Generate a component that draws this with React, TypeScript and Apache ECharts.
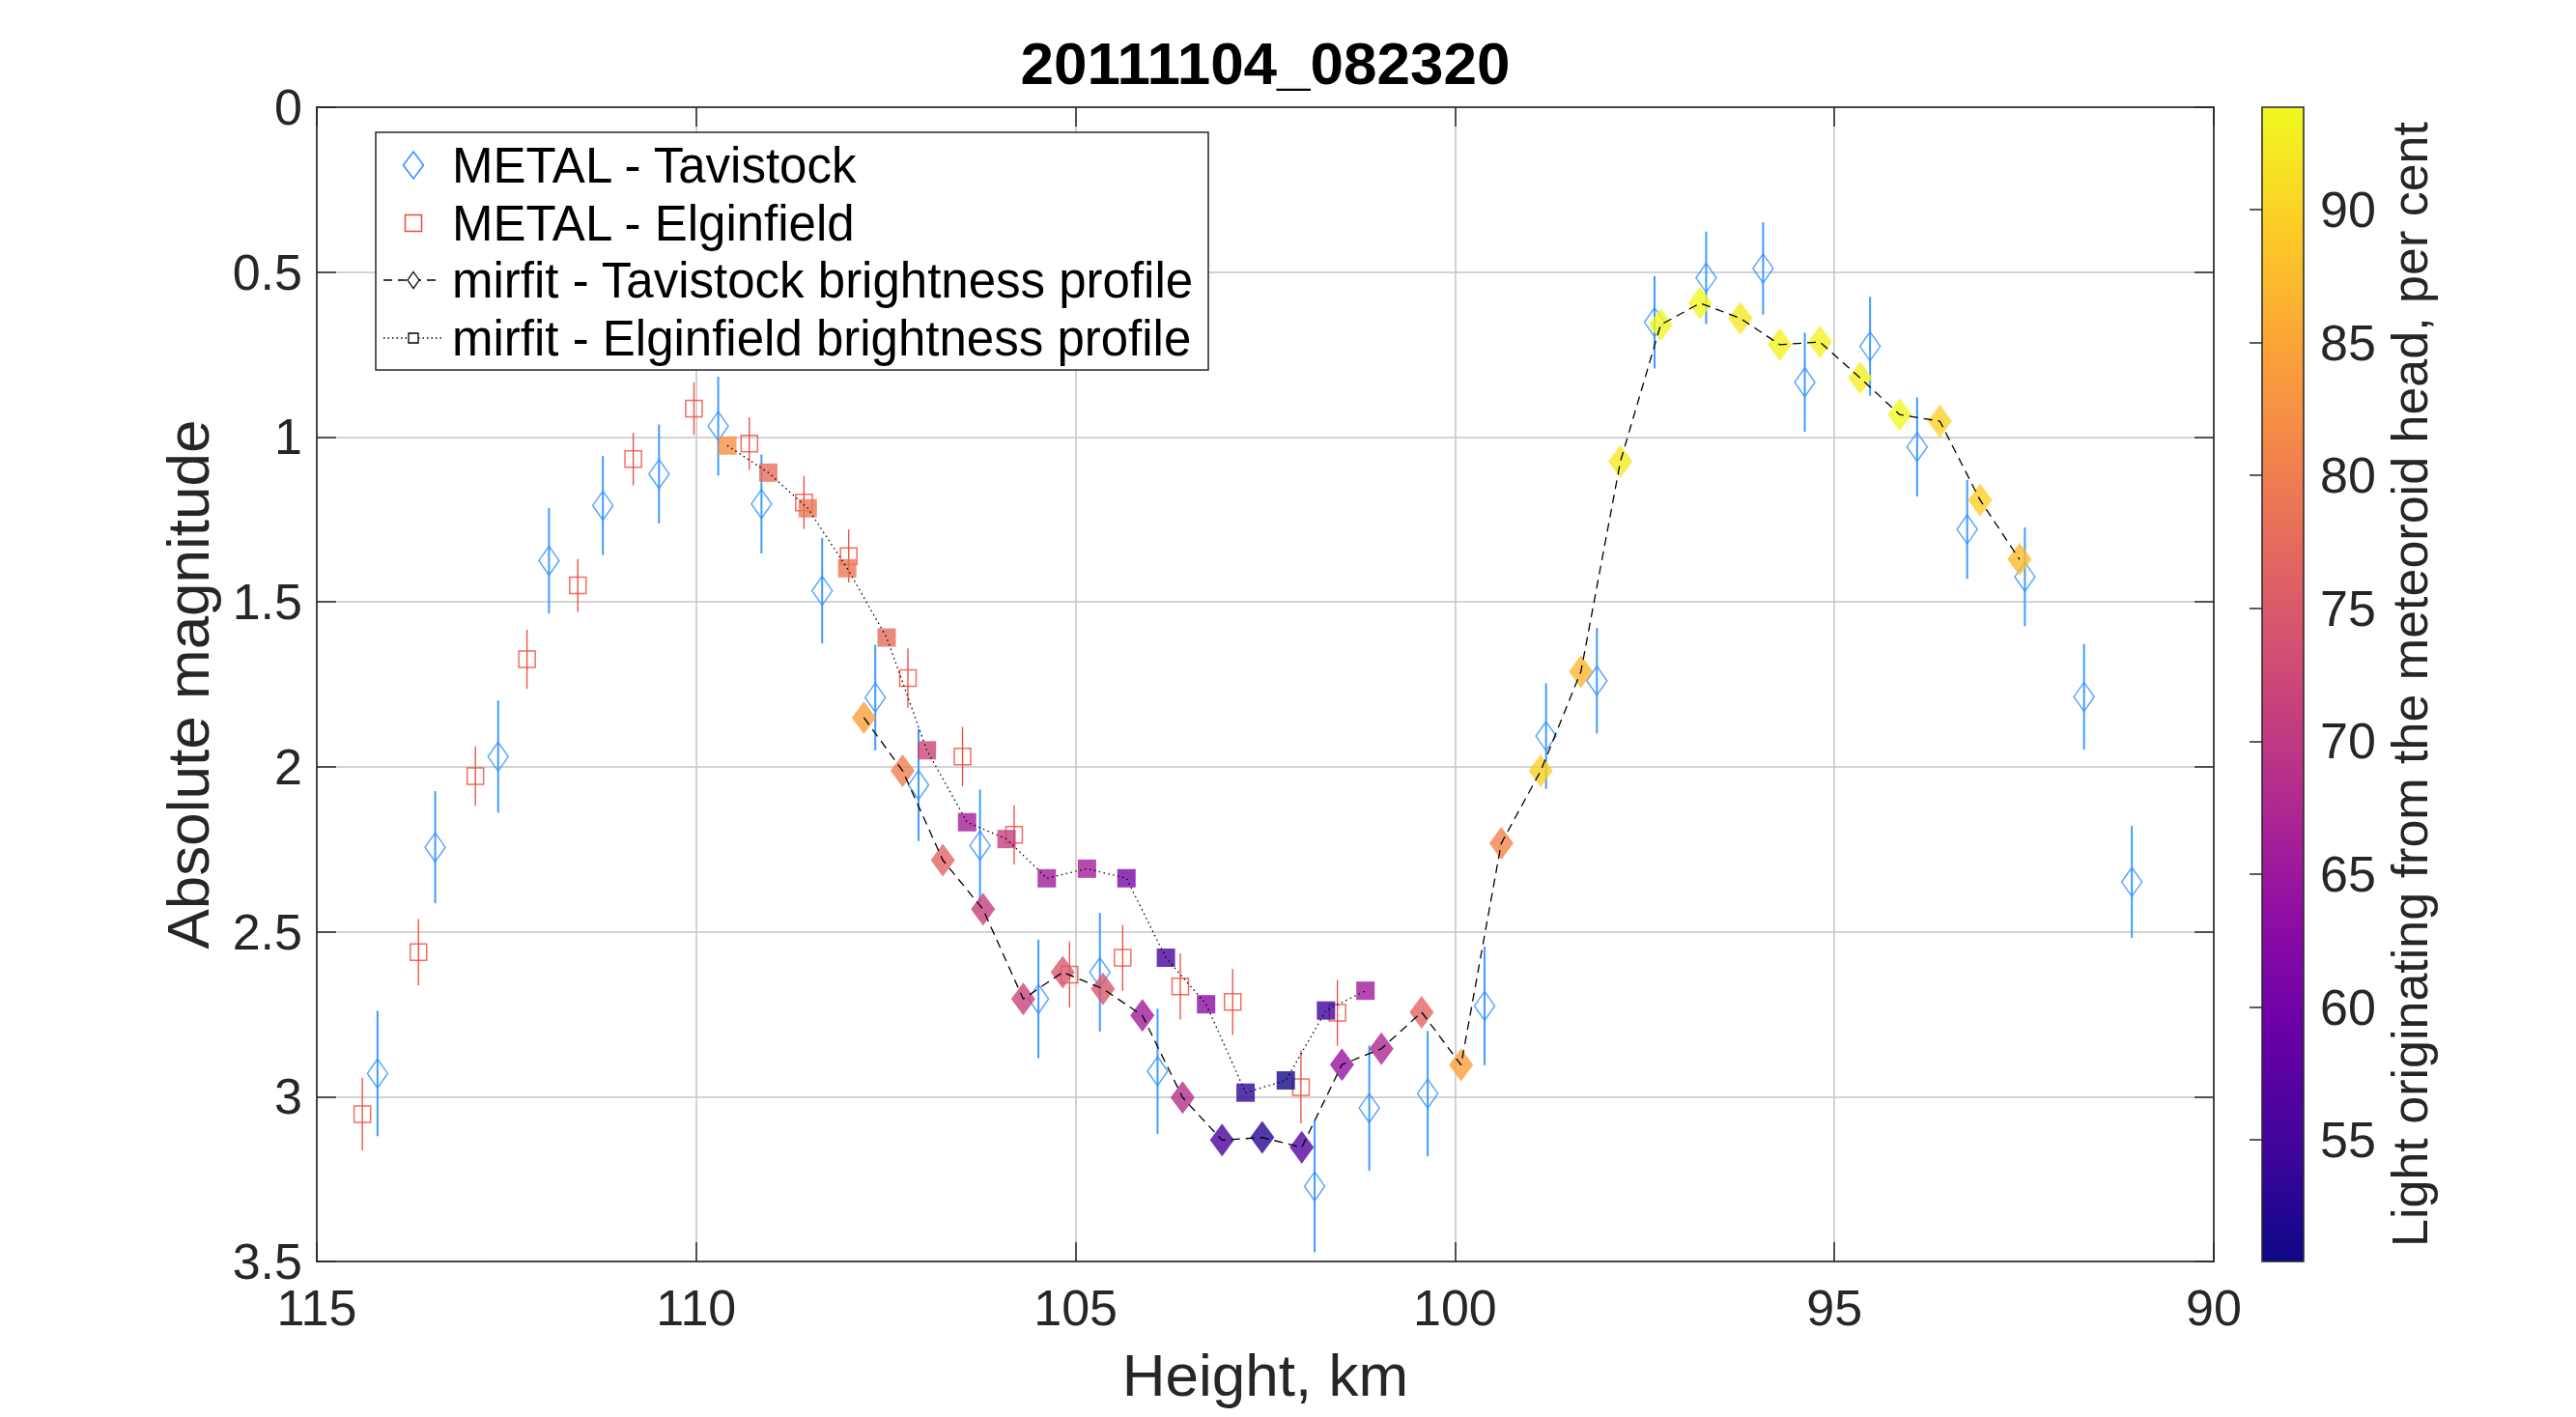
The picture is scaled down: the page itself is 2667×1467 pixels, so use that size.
import React, { useEffect, useRef } from "react";
import * as echarts from "echarts";

// ---------- data ----------
// METAL - Tavistock (height km, absolute magnitude, error)
const tavHeight = [114.2, 113.44, 112.61, 111.94, 111.23, 110.49, 109.71, 109.14, 108.34, 107.64, 107.07, 106.26, 105.49, 104.68, 103.92, 101.85, 101.13, 100.36, 99.61, 98.8, 98.13, 97.37, 96.69, 95.94, 95.39, 94.53, 93.91, 93.25, 92.49, 91.71, 91.08];
const tavMag = [2.93, 2.244, 1.969, 1.375, 1.208, 1.112, 0.967, 1.203, 1.466, 1.79, 2.055, 2.239, 2.704, 2.623, 2.923, 3.272, 3.035, 2.991, 2.725, 1.907, 1.739, 0.652, 0.517, 0.489, 0.834, 0.725, 1.03, 1.28, 1.424, 1.788, 2.349];
const tavErr = [0.19, 0.17, 0.17, 0.16, 0.15, 0.15, 0.15, 0.15, 0.16, 0.16, 0.17, 0.17, 0.18, 0.18, 0.19, 0.2, 0.19, 0.19, 0.18, 0.16, 0.16, 0.14, 0.14, 0.14, 0.15, 0.15, 0.15, 0.15, 0.15, 0.16, 0.17];

// METAL - Elginfield
const elgHeight = [114.4, 113.66, 112.91, 112.23, 111.56, 110.83, 110.03, 109.3, 108.58, 107.99, 107.21, 106.49, 105.81, 105.08, 104.38, 103.62, 102.93, 102.03, 101.55];
const elgMag = [3.053, 2.562, 2.028, 1.674, 1.45, 1.067, 0.914, 1.02, 1.199, 1.361, 1.731, 1.969, 2.206, 2.63, 2.579, 2.666, 2.713, 2.971, 2.746];
const elgErr = [0.11, 0.1, 0.09, 0.09, 0.08, 0.08, 0.08, 0.08, 0.08, 0.08, 0.09, 0.09, 0.09, 0.1, 0.1, 0.1, 0.1, 0.11, 0.1];

// mirfit - Tavistock brightness profile (height, magnitude, % light from head)
const mirTavHeight = [107.79, 107.28, 106.75, 106.22, 105.69, 105.17, 104.64, 104.12, 103.59, 103.07, 102.54, 102.02, 101.49, 100.97, 100.44, 99.92, 99.39, 98.87, 98.34, 97.82, 97.29, 96.77, 96.24, 95.72, 95.19, 94.66, 94.14, 93.61, 93.08, 92.56];
const mirTavMag = [1.851, 2.012, 2.283, 2.432, 2.704, 2.623, 2.673, 2.754, 3.003, 3.132, 3.124, 3.154, 2.903, 2.855, 2.744, 2.904, 2.232, 2.012, 1.711, 1.074, 0.66, 0.594, 0.64, 0.72, 0.712, 0.821, 0.932, 0.952, 1.191, 1.371];
const mirTavPct = [84.3, 80, 76.5, 71, 71.7, 74.8, 74.5, 65.6, 68.5, 55.6, 52.6, 57, 64.3, 67.4, 76.5, 84.3, 80.9, 89.5, 87, 92.2, 93.4, 93.6, 92, 93.2, 93.2, 93, 93.6, 89.8, 89.7, 87.3];

// mirfit - Elginfield brightness profile
const mirElgHeight = [109.59, 109.05, 108.53, 108.01, 107.49, 106.96, 106.43, 105.91, 105.38, 104.85, 104.33, 103.81, 103.28, 102.76, 102.23, 101.7, 101.18];
const mirElgMag = [1.026, 1.108, 1.216, 1.398, 1.608, 1.95, 2.168, 2.219, 2.338, 2.309, 2.338, 2.579, 2.72, 2.988, 2.951, 2.739, 2.679];
const mirElgPct = [82.5, 78, 79, 79, 77.5, 72, 66, 71, 65.6, 66, 61, 55.5, 63, 53.5, 51.3, 54.5, 65.5];

// colour bar range
const colorbarMin = 50.43;
const colorbarMax = 93.85;

const titleText = "20111104_082320";
const legendLabels = [
  "METAL - Tavistock",
  "METAL - Elginfield",
  "mirfit - Tavistock brightness profile",
  "mirfit - Elginfield brightness profile",
];

// ---------- styles ----------
const FONT = '"Liberation Sans", Arial, Helvetica, sans-serif';
const AXIS_COLOR = "#262626";
const GRID_COLOR = "#c4c4c4";
const BLUE = "#2f8fff";
const BLUE_BAR = "#3f9cff";
const RED = "#ee4a3c";
const plasma = ["#0d0887", "#41049d", "#6a00a8", "#8f0da4", "#b12a90", "#cc4778", "#e16462", "#f2844b", "#fca636", "#fcce25", "#f0f921"];

function errorBarSeries(h: number[], m: number[], e: number[], color: string, width: number) {
  return {
    type: "custom",
    xAxisIndex: 0,
    yAxisIndex: 0,
    data: h.map((v, i) => [v, m[i], e[i]]),
    encode: { x: 0, y: 1 },
    silent: true,
    renderItem: (params: any, api: any) => {
      const x = api.value(0);
      const y = api.value(1);
      const err = api.value(2);
      const p1 = api.coord([x, y - err]);
      const p2 = api.coord([x, y + err]);
      return {
        type: "line",
        shape: { x1: p1[0], y1: p1[1], x2: p2[0], y2: p2[1] },
        style: { stroke: color, lineWidth: width },
      };
    },
  };
}

function diamondPoints(cx: number, cy: number, w: number, h: number) {
  return [
    [cx, cy - h / 2],
    [cx + w / 2, cy],
    [cx, cy + h / 2],
    [cx - w / 2, cy],
  ];
}

function buildLegend() {
  const rowsY = [171, 231, 290, 350];
  const iconX = 428;
  const textX = 468;
  const els: any[] = [
    {
      type: "rect",
      shape: { x: 389, y: 137, width: 862, height: 246 },
      style: { fill: "#ffffff", stroke: AXIS_COLOR, lineWidth: 1.5 },
    },
    {
      type: "polygon",
      shape: { points: diamondPoints(iconX, rowsY[0], 21, 28) },
      style: { fill: "none", stroke: BLUE, lineWidth: 1.5 },
    },
    {
      type: "rect",
      shape: { x: iconX - 8.5, y: rowsY[1] - 8.5, width: 17, height: 17 },
      style: { fill: "none", stroke: RED, lineWidth: 1.5 },
    },
    {
      type: "line",
      shape: { x1: 397, y1: rowsY[2], x2: 457, y2: rowsY[2] },
      style: { stroke: "#000", lineWidth: 1.3, lineDash: [9, 6] },
    },
    {
      type: "polygon",
      shape: { points: diamondPoints(iconX, rowsY[2], 12, 17) },
      style: { fill: "#fff", stroke: "#000", lineWidth: 1.3 },
    },
    {
      type: "line",
      shape: { x1: 397, y1: rowsY[3], x2: 459, y2: rowsY[3] },
      style: { stroke: "#000", lineWidth: 1.3, lineDash: [1.5, 3] },
    },
    {
      type: "rect",
      shape: { x: iconX - 5, y: rowsY[3] - 5, width: 10, height: 10 },
      style: { fill: "#fff", stroke: "#000", lineWidth: 1.3 },
    },
  ];
  legendLabels.forEach((t, i) => {
    els.push({
      type: "text",
      x: textX,
      y: rowsY[i],
      style: {
        text: t,
        fill: "#000",
        fontSize: 51,
        fontFamily: FONT,
        align: "left",
        verticalAlign: "middle",
      },
    });
  });
  return els.map((e) => ({ ...e, z: 100 }));
}

export default function App() {
  const ref = useRef<HTMLDivElement>(null);

  useEffect(() => {
    if (!ref.current) return;
    const chart = echarts.init(ref.current, null, { renderer: "svg" });

    const mainX = {
      gridIndex: 0,
      type: "value",
      min: 90,
      max: 115,
      interval: 5,
      inverse: true,
    };
    const mainY = {
      gridIndex: 0,
      type: "value",
      min: 0,
      max: 3.5,
      interval: 0.5,
      inverse: true,
    };
    const tickStyle = {
      show: true,
      inside: true,
      length: 20,
      lineStyle: { color: AXIS_COLOR, width: 1.5 },
    };
    const axisLine = { show: true, onZero: false, lineStyle: { color: AXIS_COLOR, width: 1.5 } };

    const option: any = {
      animation: false,
      backgroundColor: "#ffffff",
      title: {
        text: titleText,
        left: 1310,
        top: 34,
        textAlign: "center",
        padding: 0,
        textStyle: { fontSize: 62, fontWeight: "bold", color: "#000", fontFamily: FONT },
      },
      grid: [
        {
          left: 328,
          top: 111,
          width: 1964,
          height: 1195,
          show: true,
          borderColor: AXIS_COLOR,
          borderWidth: 1.5,
          backgroundColor: "transparent",
        },
        {
          left: 2342,
          top: 111,
          width: 43,
          height: 1195,
          show: true,
          borderColor: AXIS_COLOR,
          borderWidth: 1.5,
          backgroundColor: "transparent",
          z: 10,
        },
      ],
      xAxis: [
        {
          ...mainX,
          position: "bottom",
          axisLine,
          axisTick: tickStyle,
          axisLabel: { fontSize: 52, color: AXIS_COLOR, fontFamily: FONT, margin: 22 },
          splitLine: { show: true, lineStyle: { color: GRID_COLOR, width: 1.5 } },
          name: "Height, km",
          nameLocation: "middle",
          nameGap: 86,
          nameTextStyle: { fontSize: 62, color: AXIS_COLOR, fontFamily: FONT },
        },
        {
          ...mainX,
          position: "top",
          axisLine,
          axisTick: tickStyle,
          axisLabel: { show: false },
          splitLine: { show: false },
        },
        {
          gridIndex: 1,
          type: "value",
          min: 0,
          max: 1,
          show: false,
        },
      ],
      yAxis: [
        {
          ...mainY,
          position: "left",
          axisLine,
          axisTick: tickStyle,
          axisLabel: { fontSize: 52, color: AXIS_COLOR, fontFamily: FONT, margin: 15 },
          splitLine: { show: true, lineStyle: { color: GRID_COLOR, width: 1.5 } },
          name: "Absolute magnitude",
          nameLocation: "middle",
          nameGap: 103,
          nameTextStyle: { fontSize: 62, color: AXIS_COLOR, fontFamily: FONT },
        },
        {
          ...mainY,
          position: "right",
          axisLine,
          axisTick: tickStyle,
          axisLabel: { show: false },
          splitLine: { show: false },
        },
        {
          gridIndex: 1,
          type: "value",
          min: colorbarMin,
          max: colorbarMax,
          splitNumber: 8,
          position: "right",
          z: 10,
          axisLine: { show: false },
          axisTick: { show: true, inside: true, length: 13, lineStyle: { color: AXIS_COLOR, width: 1.5 } },
          axisLabel: {
            fontSize: 52,
            color: AXIS_COLOR,
            fontFamily: FONT,
            margin: 17,
            showMinLabel: false,
            showMaxLabel: false,
            formatter: (v: number) => (Math.abs(v % 5) < 1e-6 ? String(v) : ""),
          },
          splitLine: { show: false },
          name: "Light originating from the meteoroid head, per cent",
          nameLocation: "middle",
          nameGap: 84,
          nameTextStyle: { fontSize: 52, color: AXIS_COLOR, fontFamily: FONT },
        },
      ],
      visualMap: {
        type: "continuous",
        min: colorbarMin,
        max: colorbarMax,
        dimension: 2,
        seriesIndex: [6, 7],
        orient: "vertical",
        left: 2342,
        top: 111,
        itemWidth: 43,
        itemHeight: 1195,
        padding: 0,
        calculable: false,
        text: null,
        show: true,
        inRange: { color: plasma },
      },
      series: [
        errorBarSeries(tavHeight, tavMag, tavErr, BLUE_BAR, 2),
        {
          name: legendLabels[0],
          type: "scatter",
          xAxisIndex: 0,
          yAxisIndex: 0,
          data: tavHeight.map((h, i) => [h, tavMag[i]]),
          symbol: "diamond",
          symbolSize: [21, 30],
          itemStyle: { color: "rgba(0,0,0,0)", borderColor: BLUE, borderWidth: 1.5 },
          silent: true,
        },
        errorBarSeries(elgHeight, elgMag, elgErr, RED, 1.3),
        {
          name: legendLabels[1],
          type: "scatter",
          xAxisIndex: 0,
          yAxisIndex: 0,
          data: elgHeight.map((h, i) => [h, elgMag[i]]),
          symbol: "rect",
          symbolSize: 17,
          itemStyle: { color: "rgba(0,0,0,0)", borderColor: RED, borderWidth: 1.5 },
          silent: true,
        },
        {
          name: legendLabels[2] + " line",
          type: "line",
          xAxisIndex: 0,
          yAxisIndex: 0,
          data: mirTavHeight.map((h, i) => [h, mirTavMag[i]]),
          symbol: "none",
          lineStyle: { color: "#000", width: 1.3, type: [9, 6] },
          silent: true,
        },
        {
          name: legendLabels[3] + " line",
          type: "line",
          xAxisIndex: 0,
          yAxisIndex: 0,
          data: mirElgHeight.map((h, i) => [h, mirElgMag[i]]),
          symbol: "none",
          lineStyle: { color: "#000", width: 1.3, type: [1.5, 3.5] },
          silent: true,
        },
        {
          name: legendLabels[2],
          type: "scatter",
          xAxisIndex: 0,
          yAxisIndex: 0,
          data: mirTavHeight.map((h, i) => [h, mirTavMag[i], mirTavPct[i]]),
          symbol: "diamond",
          symbolSize: [25, 34],
          silent: true,
        },
        {
          name: legendLabels[3],
          type: "scatter",
          xAxisIndex: 0,
          yAxisIndex: 0,
          data: mirElgHeight.map((h, i) => [h, mirElgMag[i], mirElgPct[i]]),
          symbol: "rect",
          symbolSize: 19,
          silent: true,
        },
      ],
      graphic: { elements: buildLegend() },
    };

    chart.setOption(option);
    return () => {
      chart.dispose();
    };
  }, []);

  return (
    <div
      ref={ref}
      style={{ position: "absolute", left: 0, top: 0, width: 2667, height: 1467, background: "#fff" }}
    />
  );
}
